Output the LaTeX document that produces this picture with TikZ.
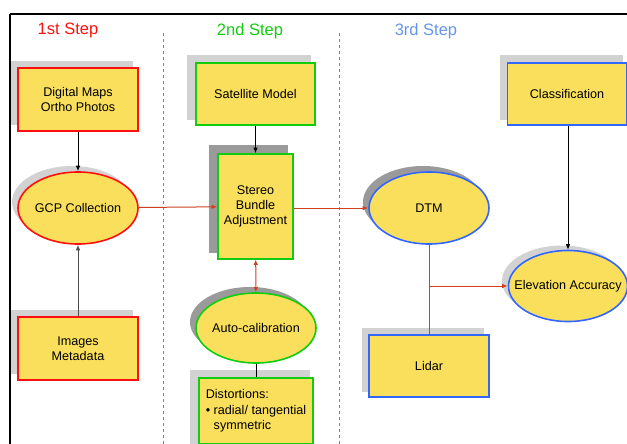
\documentclass[tikz,border=0pt]{standalone}
\usepackage{fontspec}
\setmainfont{Liberation Sans}
\usetikzlibrary{shapes.geometric,arrows.meta}
\definecolor{fillY}{HTML}{F9DF5B}
\definecolor{cRed}{HTML}{FF1010}
\definecolor{cGreen}{HTML}{11CC11}
\definecolor{cBlue}{HTML}{3366FF}
\definecolor{cArrow}{HTML}{D04020}
\definecolor{cStep}{HTML}{6495ED}
\definecolor{shLight}{HTML}{D2D2D2}
\definecolor{shDark}{HTML}{9A9A9A}
\tikzset{
  box/.style={rectangle, fill=fillY, line width=1.6pt, inner sep=0pt, align=center, font=\fontsize{12.6}{15}\selectfont},
  oval/.style={ellipse, fill=fillY, line width=1.6pt, inner xsep=-30pt, inner ysep=0pt, align=center, font=\fontsize{12.6}{15}\selectfont},
  steplabel/.style={font=\fontsize{16.5}{18}\selectfont},
  blackarrow/.style={-{Latex[length=5.5pt,width=4.5pt]}, line width=0.9pt, black},
  redarrow/.style={-{Latex[length=5.5pt,width=4.5pt]}, line width=1pt, cArrow},
  sepline/.style={gray, line width=1pt, dash pattern=on 3pt off 3pt}
}
\begin{document}
\begin{tikzpicture}[x=1pt,y=-1pt]
\useasboundingbox (0,0) rectangle (627,444);
\clip (0,0) rectangle (627,444);
% frame
\draw[line width=2pt] (10,14) -- (630,14);
\draw[line width=2pt] (10,14) -- (10,450);
% separators
\coordinate (s1t) at (163,33); \coordinate (s1b) at (163,446);
\coordinate (s2t) at (339,33); \coordinate (s2b) at (339,446);
\draw[sepline] (s1t) -- (s1b);
\draw[sepline] (s2t) -- (s2b);
% step labels
\node[steplabel, text=cRed] (st1) at (68,30) {1st Step};
\node[steplabel, text=cGreen] (st2) at (250,31) {2nd Step};
\node[steplabel, text=cStep] (st3) at (426,31) {3rd Step};
% shadows
\fill[shLight] (11,61) rectangle (133,125);
\fill[shLight] (11,310) rectangle (133,374);
\fill[shLight] (187,55) rectangle (311,120);
\fill[shDark] (209,145) rectangle (288,253);
\fill[shLight] (190,370) rectangle (310,446);
\fill[shLight] (500,55) rectangle (623,120);
\fill[shLight] (362,328) rectangle (484,392);
\fill[shLight] (72,202) ellipse [x radius=60, y radius=36];
\fill[shDark] (250,322) ellipse [x radius=60, y radius=35];
\fill[shDark] (423,202) ellipse [x radius=60, y radius=36];
\fill[shLight] (562,281) ellipse [x radius=60, y radius=35.5];
% nodes
\node[box, draw=cRed, minimum width=120, minimum height=63] (maps) at (78,99.5) {Digital Maps\\Ortho Photos};
\node[oval, draw=cRed, minimum width=120, minimum height=72] (gcp) at (78,208) {GCP Collection};
\node[box, draw=cRed, minimum width=120, minimum height=63] (img) at (78,348.5) {Images\\Metadata};
\node[box, draw=cGreen, minimum width=119, minimum height=62] (sat) at (255.5,94) {Satellite Model};
\node[box, draw=cGreen, minimum width=75, minimum height=105] (sba) at (255.5,206.5) {Stereo\\Bundle\\Adjustment};
\node[oval, draw=cGreen, minimum width=120, minimum height=70] (auto) at (256,328) {Auto-calibration};
\node[box, draw=cGreen, minimum width=114, minimum height=66, align=left, font=\fontsize{12.6}{15.5}\selectfont] (dist) at (256,411) {Distortions:\\\textbullet\ radial/ tangential\\\hphantom{\textbullet\ }symmetric};
\node[box, draw=cBlue, minimum width=119, minimum height=62] (cls) at (567,94) {Classification};
\node[oval, draw=cBlue, minimum width=120, minimum height=72] (dtm) at (429,208) {DTM};
\node[oval, draw=cBlue, minimum width=119, minimum height=71] (elev) at (568,286) {Elevation Accuracy};
\node[box, draw=cBlue, minimum width=120, minimum height=62] (lidar) at (429,366) {Lidar};
% connectors
\draw[blackarrow] (maps) -- (gcp);
\draw[blackarrow, gray!60!black] (img) -- (gcp);
\draw[redarrow] (gcp) -- (sba);
\draw[blackarrow] (sat) -- (sba);
\draw[redarrow, {Latex[length=5pt,width=4.5pt]}-{Latex[length=5pt,width=4.5pt]}] (sba) -- (auto);
\draw[line width=0.9pt] (auto) -- (dist);
\draw[redarrow] (sba.east |- dtm.west) -- (dtm.west);
\draw[blackarrow] (cls.south -| elev.north) -- (elev.north);
\draw[cArrow, line width=1pt] (dtm.south) -- (lidar.north);
\draw[redarrow] (dtm.south |- elev.west) -- (elev.west);
\end{tikzpicture}
\end{document}
